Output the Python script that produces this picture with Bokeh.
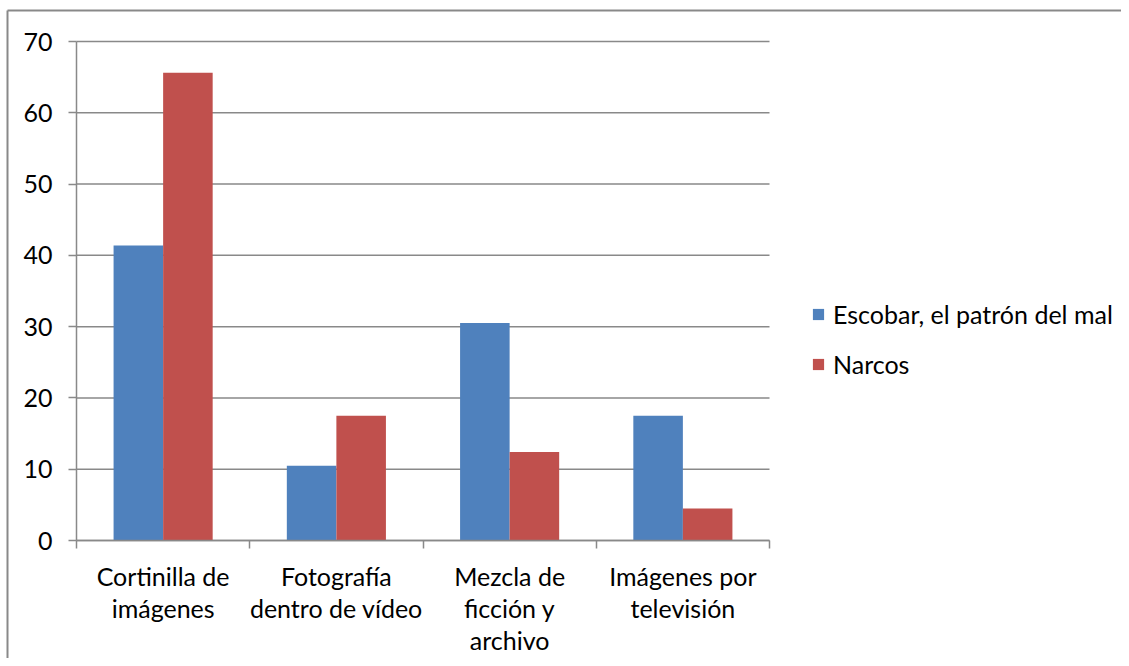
from bokeh.plotting import figure
from bokeh.models import Range1d, FixedTicker, Legend, LegendItem, LinearAxis
from bokeh.embed import file_html
from bokeh.resources import INLINE

categories = ["Cortinilla de\nimágenes", "Fotografía\ndentro de vídeo",
              "Mezcla de\nficción y\narchivo", "Imágenes por\ntelevisión"]
series_names = ["Escobar, el patrón del mal", "Narcos"]
escobar = [41.4, 10.5, 30.5, 17.5]
narcos = [65.6, 17.5, 12.4, 4.5]
y_ticks = [0, 10, 20, 30, 40, 50, 60, 70]

BLUE = "#4F81BD"
RED = "#C0504D"
GRID = "#898989"
FONT = "Lato"
FS = "25px"

W, H = 1121, 658
# plot-area placement in pixels (layout only)
PL, PR, PT, PB = 76, 769, 41, 540
BORDER_X, BORDER_Y = 7, 10
n = len(categories)
ymax = 70
xs = (PR - PL) / n
ys = (PB - PT) / ymax

def px_to_x(px):
    return (px - PL) / xs

def py_to_y(py):
    return (PB - py) / ys

p = figure(width=W, height=H, output_backend="svg", toolbar_location=None,
           x_axis_location=None, y_axis_location=None,
           x_range=Range1d(px_to_x(0), px_to_x(W)),
           y_range=Range1d(py_to_y(H), py_to_y(0)))
p.min_border = 0
p.min_border_left = 0
p.min_border_right = 0
p.min_border_top = 0
p.min_border_bottom = 0
p.outline_line_color = None
p.background_fill_color = "white"
p.border_fill_color = "white"
p.grid.visible = False

# outer chart-area border (only its left and top edges fall inside the picture)
bx, by = px_to_x(BORDER_X), py_to_y(BORDER_Y)
p.segment(x0=[bx, bx], y0=[py_to_y(H + 10), by], x1=[bx, px_to_x(W + 10)], y1=[by, by],
          line_color=GRID, line_width=2)

centers = [i + 0.5 for i in range(n)]
bw = 0.286

# horizontal gridlines
p.segment(x0=[0] * len(y_ticks), x1=[n] * len(y_ticks), y0=y_ticks, y1=y_ticks,
          line_color=GRID, line_width=1.5)

r1 = p.vbar(x=[c - bw / 2 for c in centers], top=escobar, width=bw,
            fill_color=BLUE, line_color=None)
r2 = p.vbar(x=[c + bw / 2 for c in centers], top=narcos, width=bw,
            fill_color=RED, line_color=None)

# x axis
xa = LinearAxis(fixed_location=0, bounds=(0, n))
xa.ticker = FixedTicker(ticks=centers, minor_ticks=list(range(n + 1)))
xa.major_label_overrides = {c: lab for c, lab in zip(centers, categories)}
xa.major_tick_out = 0
xa.major_tick_in = 0
xa.minor_tick_out = 8
xa.minor_tick_in = 0
xa.minor_tick_line_color = GRID
xa.minor_tick_line_width = 1.5
xa.axis_line_color = GRID
xa.axis_line_width = 1.5
xa.major_label_standoff = 12
xa.major_label_text_font = FONT
xa.major_label_text_font_size = FS
xa.major_label_text_color = "black"
xa.major_label_text_line_height = 1.08
xa.major_label_orientation = "horizontal"
p.add_layout(xa, "below")

# y axis
ya = LinearAxis(fixed_location=0, bounds=(0, ymax))
ya.ticker = FixedTicker(ticks=y_ticks, minor_ticks=[])
ya.major_tick_out = 8
ya.major_tick_in = 0
ya.major_tick_line_color = GRID
ya.major_tick_line_width = 1.5
ya.axis_line_color = GRID
ya.axis_line_width = 1.5
ya.major_label_standoff = 16
ya.major_label_text_font = FONT
ya.major_label_text_font_size = FS
ya.major_label_text_color = "black"
p.add_layout(ya, "left")

legend = Legend(items=[LegendItem(label=series_names[0], renderers=[r1]),
                       LegendItem(label=series_names[1], renderers=[r2])],
                location=(811, 287 - (666 - H)), orientation="vertical",
                glyph_width=14, glyph_height=14, label_standoff=8,
                label_height=30, spacing=20, padding=0, margin=0,
                border_line_color=None, background_fill_alpha=0,
                label_text_font=FONT, label_text_font_size=FS,
                label_text_color="black")
p.add_layout(legend, "center")

open("out.html", "w").write(file_html(p, INLINE))
